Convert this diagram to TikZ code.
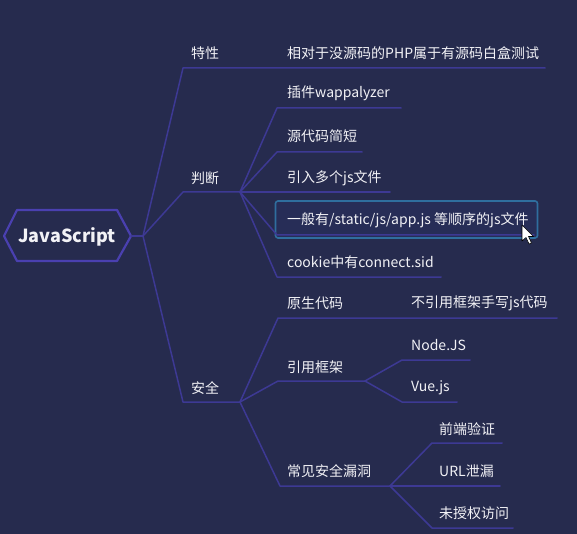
\documentclass[tikz,border=0pt]{standalone}
\usepackage{fontspec}
\setmainfont{Noto Sans CJK SC}
\usetikzlibrary{calc}
\definecolor{bgc}{HTML}{262B4E}
\definecolor{linec}{HTML}{3D3994}
\definecolor{hexc}{HTML}{4A40B0}
\definecolor{boxc}{HTML}{2F6E9E}
\definecolor{boxf}{HTML}{272D57}
\definecolor{txtc}{HTML}{F2F2F6}
\tikzset{
  conn/.style={draw=linec, line width=1.5pt, line join=round, line cap=round},
  lbl/.style={anchor=west, inner sep=0pt, text=txtc, font=\fontsize{14}{17}\selectfont},
  rootlbl/.style={inner sep=0pt, text=txtc, font=\fontsize{18}{22}\selectfont\bfseries},
  pt/.style={inner sep=0pt, minimum size=0pt}
}
\begin{document}
\begin{tikzpicture}[x=1pt,y=-1pt]
\fill[bgc] (0,0) rectangle (577,534);
\useasboundingbox (0,0) rectangle (577,534);

% root hexagon
\draw[hexc, line width=2.2pt, fill=bgc, line join=round]
  (4,236) -- (17,210) -- (117,210) -- (131,236) -- (117,261) -- (17,261) -- cycle;
\node[rootlbl] (root) at (67,237) {JavaScript};
\coordinate (rtip) at (131,236);
\coordinate (j0) at (143,236);
\draw[conn] (rtip) -- (j0);

% highlighted box
\node[draw=boxc, fill=boxf, line width=1.6pt, rounded corners=2.5pt, minimum width=262pt, minimum height=37pt, inner sep=0pt] (hbox) at (406.5,219.5) {};

% level 1 anchor points
\coordinate (t1a) at (183,68);  \coordinate (t1b) at (545,68);
\coordinate (p1a) at (183,192); \coordinate (j1) at (240,192);
\coordinate (s1a) at (183,402); \coordinate (j2) at (240,402);
\draw[conn] (j0) -- (t1a) -- (t1b);
\draw[conn] (j0) -- (p1a) -- (j1);
\draw[conn] (j0) -- (s1a) -- (j2);

% 判断 children
\coordinate (a1) at (277,108); \coordinate (a2) at (401,108);
\coordinate (b1) at (277,152); \coordinate (b2) at (362,152);
\coordinate (c2) at (390,192);
\coordinate (d1) at (277,235); \coordinate (d2) at (534,235);
\coordinate (e1) at (277,277); \coordinate (e2) at (441,277);
\draw[conn] (j1) -- (a1) -- (a2);
\draw[conn] (j1) -- (b1) -- (b2);
\draw[conn] (j1) -- (c2);
\draw[conn] (j1) -- (d1) -- (d2);
\draw[conn] (j1) -- (e1) -- (e2);

% 安全 children
\coordinate (f1) at (278,318); \coordinate (f2) at (557,318);
\coordinate (g1) at (278,381); \coordinate (j3) at (365,381);
\coordinate (h1) at (280,486); \coordinate (j4) at (390,486);
\draw[conn] (j2) -- (f1) -- (f2);
\draw[conn] (j2) -- (g1) -- (j3);
\draw[conn] (j2) -- (h1) -- (j4);

\coordinate (n1) at (402,360); \coordinate (n2) at (470,360);
\coordinate (v1) at (402,402); \coordinate (v2) at (457,402);
\draw[conn] (j3) -- (n1) -- (n2);
\draw[conn] (j3) -- (v1) -- (v2);

\coordinate (q1) at (432,443); \coordinate (q2) at (502,443);
\coordinate (u2) at (500,486);
\coordinate (w1) at (432,528); \coordinate (w2) at (513,528);
\draw[conn] (j4) -- (q1) -- (q2);
\draw[conn] (j4) -- (u2);
\draw[conn] (j4) -- (w1) -- (w2);

% labels
\node[lbl] (tx) at (191,53) {特性};
\node[lbl] (tx1) at (287,53) {相对于没源码的PHP属于有源码白盒测试};
\node[lbl] (pd) at (191,178) {判断};
\node[lbl] (pd1) at (287,93) {插件wappalyzer};
\node[lbl] (pd2) at (287,136) {源代码简短};
\node[lbl] (pd3) at (287,178) {引入多个js文件};
\node[lbl] (pd4) at (287,220) {一般有/static/js/app.js 等顺序的js文件};
\node[lbl] (pd5) at (287,262) {cookie中有connect.sid};
\node[lbl] (aq) at (191,388) {安全};
\node[lbl] (aq1) at (287,303) {原生代码};
\node[lbl] (aq1a) at (411,303) {不引用框架手写js代码};
\node[lbl] (aq2) at (287,367) {引用框架};
\node[lbl] (aq2a) at (411,345) {Node.JS};
\node[lbl] (aq2b) at (411,388) {Vue.js};
\node[lbl] (aq3) at (287,471) {常见安全漏洞};
\node[lbl] (aq3a) at (439,429) {前端验证};
\node[lbl] (aq3b) at (439,471) {URL泄漏};
\node[lbl] (aq3c) at (439,513) {未授权访问};

% mouse cursor
\draw[black, fill=white, line width=0.6pt, line join=round]
  (522,225) -- (522,241) -- (526,237.5) -- (529,244) -- (531.5,243) -- (528.5,236.5) -- (533.5,236.5) -- cycle;
\end{tikzpicture}
\end{document}
